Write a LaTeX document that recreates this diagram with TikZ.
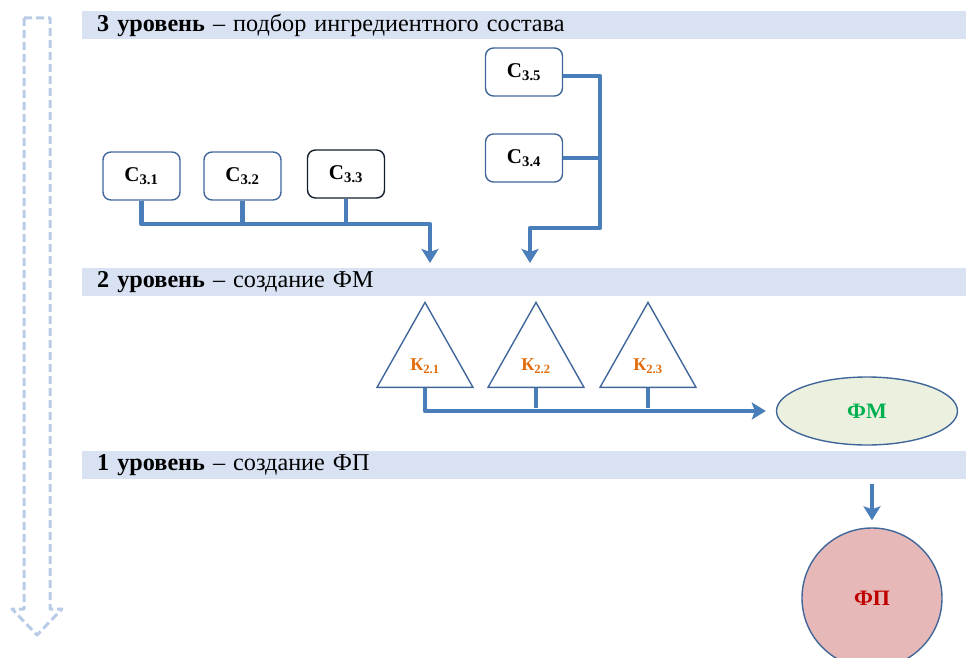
\documentclass[tikz,border=0pt]{standalone}
\usepackage{fontspec}
\setmainfont{Liberation Serif}
\usetikzlibrary{arrows.meta,shapes.geometric}
\definecolor{band}{HTML}{D9E2F3}
\definecolor{conn}{HTML}{4A7EBB}
\definecolor{boxline}{HTML}{41679A}
\definecolor{dashblue}{HTML}{B8CCE8}
\definecolor{korange}{HTML}{E46C0A}
\definecolor{fmgreen}{HTML}{00B050}
\definecolor{fmfill}{HTML}{EBF1DE}
\definecolor{fpfill}{HTML}{E6B9B8}
\definecolor{fpred}{HTML}{C00000}
\newcommand{\sbs}[1]{\textsubscript{#1}}
\tikzset{
  bandbox/.style={fill=band, draw=none, anchor=north west, minimum width=884pt, minimum height=28pt, inner sep=0pt, text width=874pt, align=left, font=\fontsize{24.2}{25}\selectfont},
  cbox/.style={draw=boxline, line width=1.4pt, fill=white, rounded corners=8pt, minimum width=77pt, minimum height=48pt, inner sep=0pt, font=\fontsize{21}{22}\selectfont\bfseries},
  ktri/.style={draw=boxline, line width=1.4pt, fill=white, isosceles triangle, isosceles triangle apex angle=59, isosceles triangle stretches, shape border rotate=90, minimum height=85pt, minimum width=96pt, inner sep=0pt, anchor=apex},
  klabel/.style={text=korange, font=\fontsize{18}{20}\selectfont\bfseries},
  wire/.style={draw=conn, line width=4.5pt},
  wirearrow/.style={wire, -{Stealth[length=14pt,width=17pt,inset=3pt]}},
}
\begin{document}
\begin{tikzpicture}[x=1pt,y=-1pt]
\useasboundingbox (0,0) rectangle (966,658);
% left dashed arrow
\draw[dashblue, line width=3pt, dash pattern=on 8pt off 4pt, line join=round]
  (24,18) -- (50,18) -- (50,609) -- (62,609) -- (37,635) -- (12,609) -- (24,609) -- cycle;
% header bands
\node[bandbox] (h3) at (82,11) {\hspace*{10pt}\textbf{3 уровень} – подбор ингредиентного состава};
\node[bandbox] (h2) at (82,268) {\hspace*{10pt}\textbf{2 уровень} – создание ФМ};
\node[bandbox] (h1) at (82,451) {\hspace*{10pt}\textbf{1 уровень} – создание ФП};
% level 3 boxes
\node[cbox] (c31) at (141.5,176) {C\sbs{3.1}};
\node[cbox] (c32) at (242.5,176) {C\sbs{3.2}};
\node[cbox, draw=black!70!boxline] (c33) at (346,174) {C\sbs{3.3}};
\node[cbox] (c35) at (524,72) {C\sbs{3.5}};
\node[cbox] (c34) at (524,158) {C\sbs{3.4}};
\coordinate (t1) at (430,263);
\coordinate (t2) at (530,263);
% connectors left group
\draw[wire] (c32.south) -- (242.5,224);
\draw[wire] (c33.south) -- (346,224);
\draw[wirearrow, line join=round] (c31.south) |- (430,224) -- (t1);
% right group
\draw[wire] (c34.east) -- (c34.east -| 600,0);
\draw[wirearrow, line join=round] ([yshift=-4pt]c35.east) -| (600,228) -| (t2);
% triangles
\node[ktri] (k21) at (425,301) {};
\node[ktri] (k22) at (536,301) {};
\node[ktri] (k23) at (648,301) {};
\node[klabel] (l21) at (425,366) {К\sbs{2.1}};
\node[klabel] (l22) at (536,366) {К\sbs{2.2}};
\node[klabel] (l23) at (648,366) {К\sbs{2.3}};
% ellipse FM
\node[ellipse, draw=boxline, line width=1.4pt, fill=fmfill, minimum width=181pt, minimum height=68pt, text=fmgreen, font=\fontsize{22}{24}\selectfont\bfseries] (fm) at (867,411) {ФМ};
\draw[wire] (k22.south) -- (k22.south |- 0,408);
\draw[wire] (k23.south) -- (k23.south |- 0,408);
\draw[wirearrow, line join=round, shorten >=10pt] (k21.south) |- (fm.west);
% circle FP
\node[ellipse, draw=boxline, line width=1.4pt, fill=fpfill, minimum width=140pt, minimum height=140pt, text=fpred, font=\fontsize{22}{24}\selectfont\bfseries] (fp) at (872,598) {ФП};
\draw[wirearrow, shorten >=7pt] (872,484) -- (fp.north);
\end{tikzpicture}
\end{document}
